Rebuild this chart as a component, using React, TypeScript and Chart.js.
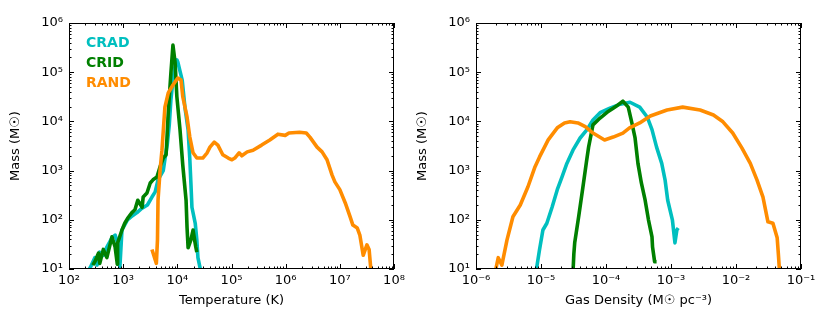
import React, { useEffect, useRef } from 'react';
import { Chart, registerables } from 'chart.js';

Chart.register(...registerables);

const FONT = "'DejaVu Sans', sans-serif";

// ---------- axes ----------
const tempTicks = [1e2, 1e3, 1e4, 1e5, 1e6, 1e7, 1e8];
const tempTickLabels = ['10²', '10³', '10⁴', '10⁵', '10⁶', '10⁷', '10⁸'];
const densTicks = [1e-6, 1e-5, 1e-4, 1e-3, 1e-2, 1e-1];
const densTickLabels = ['10⁻⁶', '10⁻⁵', '10⁻⁴', '10⁻³', '10⁻²', '10⁻¹'];
const massTicks = [1e1, 1e2, 1e3, 1e4, 1e5, 1e6];
const massTickLabels = ['10¹', '10²', '10³', '10⁴', '10⁵', '10⁶'];

const seriesNames = ['CRAD', 'CRID', 'RAND'];
const seriesColors = ['#00BFBF', '#008000', '#FF8C00'];

// ---------- left panel: mass vs temperature (K) ----------
const cradTemp = [210, 250, 300, 330, 370, 430, 500, 620, 710, 790, 870, 950, 1200, 1400, 1800, 2200, 2800, 3400, 3900, 4400, 5500, 5900, 6500, 7100, 7600, 8300, 9100, 9800, 10200, 11200, 12300, 13800, 15800, 17000, 17800, 18600, 21400, 22900, 24000, 26300, 27500];
const cradTempMass = [7.9, 11, 17, 12, 22, 19, 28, 43, 49, 34, 11, 62, 100, 115, 140, 170, 200, 290, 370, 650, 1000, 1700, 3300, 8500, 27000, 69000, 135000, 178000, 162000, 105000, 69000, 19500, 6800, 1700, 560, 180, 85, 39, 17, 10.5, 7];

const cridTemp = [275, 300, 350, 370, 430, 500, 620, 710, 780, 790, 950, 1070, 1230, 1450, 1650, 1860, 2240, 2340, 2750, 3160, 3550, 4200, 4800, 5500, 6200, 6800, 7600, 8300, 9100, 9800, 11200, 12600, 14500, 15100, 15800, 17800, 19500, 20400, 21900, 22900];
const cridTempMass = [12, 14, 21, 13, 25, 17, 45, 28, 12.5, 34, 62, 85, 110, 140, 160, 250, 180, 290, 350, 560, 650, 740, 1200, 1800, 2100, 15000, 95000, 355000, 155000, 32000, 6800, 1300, 250, 71, 27, 39, 62, 45, 28, 22];

const randTemp = [3400, 4100, 4300, 4400, 4800, 5200, 5900, 6800, 8300, 10200, 11700, 12600, 15100, 17000, 19500, 22900, 29500, 35500, 40000, 48000, 56000, 69000, 87000, 102000, 115000, 138000, 155000, 195000, 250000, 360000, 510000, 720000, 980000, 1150000, 1800000, 2400000, 2800000, 3800000, 4700000, 5800000, 7200000, 8100000, 10000000, 12600000, 15500000, 17400000, 21000000, 23400000, 27000000, 31600000, 34700000, 38000000];
const randTempMass = [25, 13, 39, 250, 1000, 2600, 19500, 38000, 55000, 76000, 69000, 32000, 12300, 4800, 2300, 1800, 1800, 2300, 3000, 3800, 3300, 2100, 1800, 1660, 1800, 2300, 2000, 2400, 2600, 3300, 4200, 5500, 5200, 5800, 6000, 5800, 4800, 3000, 2400, 1660, 810, 590, 410, 220, 115, 78, 68, 49, 19, 31, 25, 8];

// ---------- right panel: mass vs gas density (Msun pc^-3) ----------
const cradDens = [8.3e-6, 9.5e-6, 1.07e-5, 1.23e-5, 1.48e-5, 1.78e-5, 2.1e-5, 2.5e-5, 3.1e-5, 4.0e-5, 5.1e-5, 6.3e-5, 8.1e-5, 1.15e-4, 1.66e-4, 2.34e-4, 3.3e-4, 4.3e-4, 5.1e-4, 6.0e-4, 7.2e-4, 8.1e-4, 8.9e-4, 1.05e-3, 1.15e-3, 1.23e-3, 1.29e-3];
const cradDensMass = [8, 25, 62, 85, 180, 410, 740, 1400, 2600, 4600, 6800, 10700, 15000, 18600, 22400, 24500, 19500, 12300, 6800, 3000, 1400, 650, 250, 100, 34, 62, 68];

const cridDens = [3.1e-5, 3.2e-5, 3.3e-5, 3.8e-5, 4.4e-5, 5.0e-5, 5.4e-5, 6.3e-5, 8.1e-5, 1.05e-4, 1.29e-4, 1.51e-4, 1.82e-4, 2.2e-4, 2.5e-4, 2.8e-4, 3.1e-4, 3.5e-4, 4.0e-4, 4.5e-4, 5.1e-4, 5.2e-4, 5.6e-4, 6.0e-4];
const cridDensMass = [8, 20, 34, 117, 450, 1500, 3000, 8500, 11700, 15500, 18600, 21400, 25700, 19500, 9300, 4600, 1400, 560, 250, 100, 45, 28, 14, 14];

const randDens = [1.95e-6, 2.2e-6, 2.5e-6, 3.0e-6, 3.7e-6, 4.8e-6, 6.3e-6, 8.1e-6, 9.5e-6, 1.29e-5, 1.78e-5, 2.3e-5, 2.8e-5, 3.7e-5, 4.8e-5, 6.3e-5, 9.5e-5, 1.29e-4, 1.82e-4, 2.3e-4, 3.3e-4, 4.8e-4, 8.7e-4, 1.51e-3, 2.8e-3, 4.5e-3, 6.3e-3, 8.9e-3, 1.23e-2, 1.66e-2, 2.1e-2, 2.6e-2, 3.1e-2, 3.7e-2, 4.3e-2, 4.5e-2, 4.7e-2];
const randDensMass = [8, 17, 12, 39, 115, 200, 470, 1200, 1900, 4200, 7400, 9300, 9800, 9300, 7800, 5800, 4200, 4800, 5800, 7400, 9300, 12900, 17000, 19500, 17000, 13500, 9800, 5800, 2900, 1400, 650, 290, 91, 85, 43, 19, 8];

const zip = (xs: number[], ys: number[]) => xs.map((x, i) => ({ x, y: ys[i] }));

function makeDatasets(xs: number[][], ys: number[][]) {
  return xs.map((xv, i) => ({
    label: seriesNames[i],
    data: zip(xv, ys[i]),
    borderColor: seriesColors[i],
    backgroundColor: seriesColors[i],
    borderWidth: 3.6,
    pointRadius: 0,
    tension: 0,
    fill: false,
    clip: 0,
    borderJoinStyle: 'round' as const,
    borderCapStyle: 'butt' as const,
    order: 2 - i,
  }));
}

// frame with inward major/minor ticks on all four sides (matplotlib classic look)
const frameTicks = {
  id: 'frameTicks',
  afterDraw(chart: any) {
    const { ctx, chartArea } = chart;
    const { left, right, top, bottom } = chartArea;
    const xs = chart.scales.x;
    const ys = chart.scales.y;
    ctx.save();
    ctx.strokeStyle = '#000';
    ctx.lineWidth = 1;
    const seg = (x1: number, y1: number, x2: number, y2: number) => {
      ctx.beginPath();
      ctx.moveTo(x1, y1);
      ctx.lineTo(x2, y2);
      ctx.stroke();
    };
    const each = (scale: any, fn: (v: number, major: boolean) => void) => {
      const e0 = Math.floor(Math.log10(scale.min)) - 1;
      const e1 = Math.ceil(Math.log10(scale.max)) + 1;
      for (let e = e0; e <= e1; e++) {
        for (let k = 1; k <= 9; k++) {
          const v = k * Math.pow(10, e);
          const lv = Math.log10(v);
          if (lv < Math.log10(scale.min) - 1e-9 || lv > Math.log10(scale.max) + 1e-9) continue;
          fn(v, k === 1);
        }
      }
    };
    each(xs, (v, major) => {
      const p = Math.round(xs.getPixelForValue(v)) + 0.5;
      const len = major ? 5 : 2.5;
      seg(p, bottom, p, bottom - len);
      seg(p, top, p, top + len);
    });
    each(ys, (v, major) => {
      const p = Math.round(ys.getPixelForValue(v)) + 0.5;
      const len = major ? 5 : 2.5;
      seg(left, p, left + len, p);
      seg(right, p, right - len, p);
    });
    ctx.strokeRect(left + 0.5, top + 0.5, right - left - 1, bottom - top - 1);
    ctx.restore();
  },
};

function makeConfig(opts: {
  datasets: any[];
  xMin: number;
  xMax: number;
  xTicks: number[];
  xLabels: string[];
  xTitle: string;
  legend: boolean;
}) {
  const tickFont = { family: FONT, size: 13 };
  return {
    type: 'line' as const,
    data: { datasets: opts.datasets },
    plugins: [frameTicks],
    options: {
      animation: false as const,
      responsive: false,
      maintainAspectRatio: false,
      events: [] as any[],
      layout: { padding: { left: 0, top: 23, right: 21, bottom: 0 } },
      plugins: {
        tooltip: { enabled: false },
        title: { display: false },
        legend: {
          display: opts.legend,
          position: 'chartArea' as const,
          align: 'start' as const,
          title: {
            display: true,
            text: '',
            font: { family: FONT, size: 10, lineHeight: 1.2 },
            padding: { top: 18, bottom: 0 },
          },
          labels: {
            boxWidth: 4,
            boxHeight: 14,
            padding: 6,
            font: { family: FONT, size: 14, weight: 'bold' as const },
            generateLabels: (chart: any) =>
              chart.data.datasets.map((ds: any, i: number) => ({
                text: ds.label,
                fontColor: ds.borderColor,
                fillStyle: 'rgba(0,0,0,0)',
                strokeStyle: 'rgba(0,0,0,0)',
                lineWidth: 0,
                hidden: false,
                datasetIndex: i,
              })),
          },
        },
      },
      scales: {
        x: {
          type: 'logarithmic' as const,
          min: opts.xMin,
          max: opts.xMax,
          afterBuildTicks: (s: any) => {
            s.ticks = opts.xTicks.map((v) => ({ value: v }));
          },
          afterFit: (s: any) => {
            s.height = 63;
          },
          grid: { display: false, drawTicks: false },
          border: { display: false },
          ticks: {
            autoSkip: false,
            maxRotation: 0,
            padding: 4,
            color: '#000',
            font: tickFont,
            callback: (_v: any, i: number) => opts.xLabels[i],
          },
          title: {
            display: true,
            text: opts.xTitle,
            color: '#000',
            font: { family: FONT, size: 13 },
            padding: { top: 0, bottom: 24 },
          },
        },
        y: {
          type: 'logarithmic' as const,
          min: 10,
          max: 1e6,
          afterBuildTicks: (s: any) => {
            s.ticks = massTicks.map((v) => ({ value: v }));
          },
          afterFit: (s: any) => {
            s.width = 69;
          },
          grid: { display: false, drawTicks: false },
          border: { display: false },
          ticks: {
            autoSkip: false,
            padding: 6,
            color: '#000',
            font: tickFont,
            callback: (_v: any, i: number) => massTickLabels[i],
          },
          title: {
            display: true,
            text: 'Mass (M☉)',
            color: '#000',
            font: { family: FONT, size: 13 },
            padding: { top: 7.5, bottom: 0 },
          },
        },
      },
    },
  };
}

export default function App() {
  const leftRef = useRef<HTMLCanvasElement>(null);
  const rightRef = useRef<HTMLCanvasElement>(null);

  useEffect(() => {
    const left = new Chart(
      leftRef.current as HTMLCanvasElement,
      makeConfig({
        datasets: makeDatasets([cradTemp, cridTemp, randTemp], [cradTempMass, cridTempMass, randTempMass]),
        xMin: 1e2,
        xMax: 1e8,
        xTicks: tempTicks,
        xLabels: tempTickLabels,
        xTitle: 'Temperature (K)',
        legend: true,
      }) as any
    );
    const right = new Chart(
      rightRef.current as HTMLCanvasElement,
      makeConfig({
        datasets: makeDatasets([cradDens, cridDens, randDens], [cradDensMass, cridDensMass, randDensMass]),
        xMin: 1e-6,
        xMax: 1e-1,
        xTicks: densTicks,
        xLabels: densTickLabels,
        xTitle: 'Gas Density (M☉ pc⁻³)',
        legend: false,
      }) as any
    );
    return () => {
      left.destroy();
      right.destroy();
    };
  }, []);

  return (
    <div style={{ position: 'fixed', left: 0, top: 0, width: 830, height: 332, background: '#fff' }}>
      <canvas
        ref={leftRef}
        width={415}
        height={332}
        style={{ position: 'absolute', left: 0, top: 0, width: 415, height: 332 }}
      />
      <canvas
        ref={rightRef}
        width={415}
        height={332}
        style={{ position: 'absolute', left: 407, top: 0, width: 415, height: 332 }}
      />
    </div>
  );
}
